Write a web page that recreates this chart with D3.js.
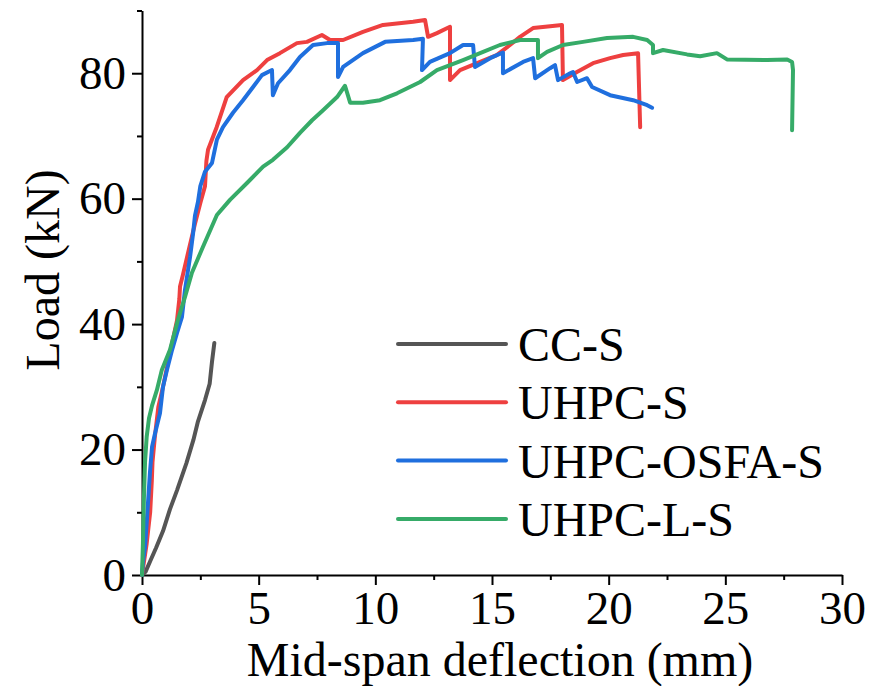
<!DOCTYPE html>
<html lang="en">
<head>
<meta charset="UTF-8">
<title>Load-deflection</title>
<script src="https://cdn.jsdelivr.net/npm/d3@7"></script>
<style>
    body{ margin:0; background:#fff; }
    svg text{ font-family: "Liberation Serif", "Times New Roman", serif; fill:#000; }
    .axis path, .axis line{ stroke:#000; stroke-width:2; }
    .curve{ fill:none; stroke-width:4; stroke-linejoin:round; stroke-linecap:round; }
</style>
</head>
<body>
<div id="fig"></div>
<script>
// series: [deflection mm, load kN]
let names = ["CC-S", "UHPC-S", "UHPC-OSFA-S", "UHPC-L-S"]
let colors = ["#555555", "#ee4040", "#1f6fde", "#36ab68"]

let ccS = [[0,0],[0.15,0.5],[0.35,2.2],[0.6,4.3],[0.9,7],[1.2,10.5],[1.5,13.5],[1.9,17.8],[2.2,21.5],
    [2.4,24.5],[2.7,27.9],[2.9,30.5],[3.0,34],[3.1,37]]

let uhpcS = [[0,0],[0.2,5],[0.35,10],[0.42,15],[0.45,18],[0.55,22],[0.7,26.8],[0.9,30],[1.2,35.4],[1.5,40.6],
    [1.6,44],[1.63,46],[1.75,47.8],[1.97,51.3],[2.27,56],[2.5,59.3],[2.7,62],[2.76,66],[2.83,67.8],[3.2,71.4],
    [3.63,76.2],[4.33,78.9],[4.93,80.5],[5.36,82.1],[5.91,83.2],[6.64,84.8],[7.07,85],[7.71,86.1],[8.06,85.3],
    [8.62,85.3],[9.47,86.6],[10.33,87.7],[11.62,88.2],[12.13,88.5],[12.26,85.8],[12.64,86.4],[13.2,87.4],
    [13.2,78.9],[13.63,80.5],[14.36,81.6],[15.2,82.9],[15.77,84.5],[16.2,85.8],[16.76,87.2],[17.49,87.5],
    [18.0,87.7],[18.04,78.9],[18.64,80.2],[19.33,81.6],[20.06,82.4],[20.62,82.9],[21.26,83.2],[21.35,71.4]]

let uhpcOsfaS = [[0,0],[0.04,2],[0.13,4.5],[0.21,8.8],[0.34,16.3],[0.43,20.4],[0.56,22.6],[0.77,25.8],[0.9,30],
    [1.07,32.7],[1.29,35.9],[1.5,38.6],[1.71,41.1],[1.84,45.4],[2.06,50.7],[2.19,54.5],[2.27,57.3],[2.4,59.5],
    [2.5,62],[2.7,64.3],[3.0,65.7],[3.21,69.4],[3.47,71.4],[3.9,73.7],[4.33,75.7],[4.76,77.8],[5.14,79.7],
    [5.57,80.5],[5.61,76.5],[5.83,78.4],[6.34,80.5],[6.77,82.6],[7.33,84.5],[7.93,84.8],[8.4,84.8],[8.4,79.4],
    [8.62,81],[9.47,83.2],[10.42,85],[11.62,85.3],[12.04,85.5],[12.0,80.5],[12.34,81.8],[13.2,83.2],[13.76,84.5],
    [14.19,84.5],[14.27,81],[14.92,82.4],[15.47,83.3],[15.47,80],[16.33,81.8],[16.76,82.4],[16.85,79.2],
    [17.49,80.8],[17.7,81.3],[17.83,78.9],[18.35,80],[18.47,80.2],[18.65,78.6],[19.07,79.2],[19.29,77.8],
    [20.06,76.5],[21.05,75.7],[21.65,74.9],[21.86,74.5]]

let uhpcLS = [[0,0],[0.04,5],[0.08,12],[0.13,18],[0.2,22],[0.3,25],[0.43,27],[0.64,29.5],[0.85,32.7],[1.2,35.9],
    [1.54,40.7],[1.84,44.3],[2.14,48.2],[2.61,52.3],[3.21,57.4],[3.77,59.8],[4.5,62.5],[5.19,65.1],[5.61,66.2],
    [6.22,68.2],[6.77,70.5],[7.29,72.5],[7.76,74.1],[8.36,76.2],[8.7,78],[8.92,75.3],[9.47,75.3],[10.2,75.7],
    [10.93,76.8],[11.92,78.6],[12.64,80.5],[13.76,82.1],[14.62,83.4],[15.34,84.5],[16.2,85.3],[16.97,85.3],
    [16.97,82.4],[17.36,83.4],[18.04,84.5],[18.9,85],[19.93,85.6],[21.05,85.8],[21.65,85.3],[21.9,84.5],
    [21.9,83.2],[22.33,83.7],[23.36,83],[23.92,82.7],[24.64,83.2],[25.07,82.2],[26.79,82.1],[27.65,82.2],
    [27.86,81.8],[27.9,80.5],[27.86,70.9]]

let series = [ccS, uhpcS, uhpcOsfaS, uhpcLS]

let xMajor = [0,5,10,15,20,25,30]
let xMinor = [2.5,7.5,12.5,17.5,22.5,27.5]
let yMajor = [0,20,40,60,80]
let yMinor = [10,30,50,70,90]

let W = 884, H = 686
let svg = d3.select("#fig").append("svg").attr("width",W).attr("height",H)

let x = d3.scaleLinear().domain([0,30]).range([142,842])
let y = d3.scaleLinear().domain([0,90]).range([575,10.5])

// minor ticks first, then major with domain line
svg.append("g").attr("class","axis")
    .attr("transform",`translate(0,${y(0)})`)
    .call(d3.axisBottom(x).tickValues(xMinor).tickSize(5).tickSizeOuter(0).tickFormat(""))
    .select(".domain").remove()
svg.append("g").attr("class","axis")
    .attr("transform",`translate(${x(0)},0)`)
    .call(d3.axisLeft(y).tickValues(yMinor).tickSize(5).tickSizeOuter(0).tickFormat(""))
    .select(".domain").remove()

let xAx = svg.append("g").attr("class","axis")
    .attr("transform",`translate(0,${y(0)})`)
    .call(d3.axisBottom(x).tickValues(xMajor).tickSize(10).tickSizeOuter(0).tickPadding(6))
xAx.selectAll("text").attr("font-size",47).attr("font-family","Liberation Serif")

let yAx = svg.append("g").attr("class","axis")
    .attr("transform",`translate(${x(0)},0)`)
    .call(d3.axisLeft(y).tickValues(yMajor).tickSize(10).tickSizeOuter(0).tickPadding(6))
yAx.selectAll("text").attr("font-size",47).attr("font-family","Liberation Serif")

let line = d3.line().x(d => x(d[0])).y(d => y(d[1]))

series.forEach(function (s,i){
    svg.append("path").attr("class","curve")
        .attr("d",line(s))
        .attr("stroke",colors[i])
})

// axis titles
svg.append("text")
    .attr("x",500)
    .attr("y",676)
    .attr("text-anchor","middle")
    .attr("font-size",48)
    .text("Mid-span deflection (mm)")

svg.append("text")
    .attr("transform","translate(59,270) rotate(-90)")
    .attr("text-anchor","middle")
    .attr("font-size",48)
    .text("Load (kN)")

// legend
let legend = svg.append("g").attr("transform","translate(398,344)")
names.forEach(function (n,i){
    let g = legend.append("g").attr("transform",`translate(0,${i*58.3})`)
    g.append("line").attr("x1",0).attr("x2",108).attr("y1",0).attr("y2",0)
        .attr("stroke",colors[i]).attr("stroke-width",4).attr("stroke-linecap","round")
    g.append("text").attr("x",120).attr("y",17).attr("font-size",48).text(n)
})
</script>
</body>
</html>
